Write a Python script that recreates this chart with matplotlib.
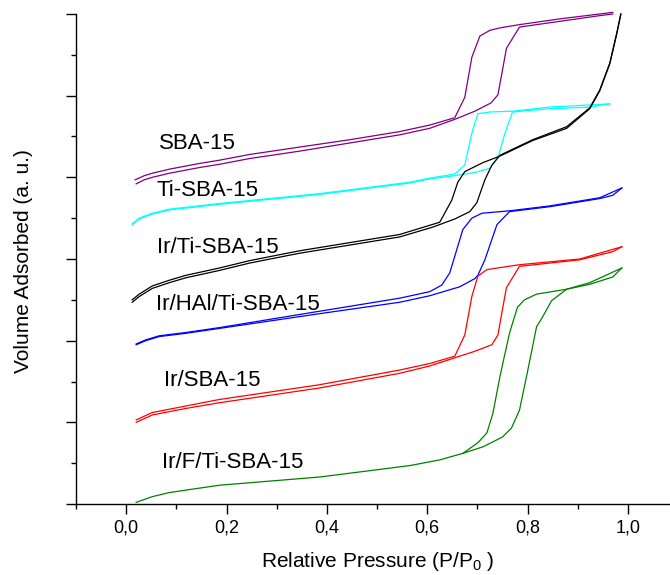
import numpy as np
import matplotlib
matplotlib.use("agg")
import matplotlib.pyplot as plt
from matplotlib.ticker import MultipleLocator, FuncFormatter, NullFormatter

plt.rcParams["font.family"] = ["Liberation Sans", "DejaVu Sans"]
plt.rcParams["mathtext.fontset"] = "custom"
plt.rcParams["mathtext.rm"] = "Liberation Sans"

# N2 isotherms, relative pressure vs adsorbed volume (offset, a.u.)
sba_ads_p = [0.020, 0.036, 0.052, 0.086, 0.146, 0.186, 0.246, 0.345, 0.445, 0.545,
             0.605, 0.655, 0.695, 0.727, 0.741, 0.750, 0.758, 0.784, 0.864, 0.944,
             0.970]
sba_ads_v = [392, 397, 400, 405, 412, 416, 423, 432, 442, 452,
             460, 471, 481, 491, 501, 531, 558, 584, 591, 598,
             600]
sba_des_p = [0.970, 0.864, 0.784, 0.745, 0.725, 0.705, 0.689, 0.675, 0.655, 0.605,
             0.545, 0.445, 0.345, 0.246, 0.186, 0.146, 0.086, 0.052, 0.036, 0.018]
sba_des_v = [602, 594, 587, 583, 580, 573, 547, 498, 473, 464,
             456, 446, 437, 428, 421, 417, 410, 405, 402, 397]

ti_ads_p = [0.012, 0.026, 0.052, 0.086, 0.186, 0.385, 0.565, 0.605, 0.655, 0.695,
            0.725, 0.741, 0.754, 0.770, 0.844, 0.924, 0.964]
ti_ads_v = [342, 349, 355, 360, 367, 379, 393, 398, 402, 406,
            411, 424, 452, 480, 484, 486, 490]
ti_des_p = [0.964, 0.844, 0.770, 0.725, 0.701, 0.689, 0.675, 0.655, 0.605, 0.565,
            0.385, 0.186, 0.086, 0.052, 0.026, 0.012]
ti_des_v = [490, 486, 481, 480, 478, 454, 415, 404, 399, 394,
            380, 368, 361, 356, 350, 343]

irti_ads_p = [0.012, 0.026, 0.052, 0.086, 0.119, 0.186, 0.246, 0.345, 0.445, 0.545,
              0.611, 0.655, 0.685, 0.699, 0.715, 0.729, 0.745, 0.810, 0.878, 0.924,
              0.944, 0.964, 0.978, 0.986]
irti_ads_v = [247, 254, 264, 271, 277, 286, 295, 307, 317, 327,
              339, 349, 358, 369, 397, 415, 427, 446, 462, 485,
              507, 540, 577, 600]
irti_des_p = [0.986, 0.978, 0.964, 0.944, 0.924, 0.878, 0.810, 0.745, 0.711, 0.675,
              0.661, 0.649, 0.625, 0.545, 0.445, 0.345, 0.246, 0.186, 0.119, 0.086,
              0.052, 0.026, 0.012]
irti_des_v = [600, 576, 539, 506, 484, 460, 445, 426, 418, 407,
              394, 372, 345, 330, 320, 310, 298, 289, 280, 274,
              267, 257, 250]

irhal_ads_p = [0.020, 0.039, 0.066, 0.119, 0.186, 0.385, 0.545, 0.605, 0.665, 0.695,
               0.701, 0.715, 0.739, 0.764, 0.844, 0.944, 0.970, 0.988]
irhal_ads_v = [195, 200, 205, 209, 215, 233, 247, 255, 266, 276,
               280, 299, 342, 358, 364, 374, 378, 387]
irhal_des_p = [0.988, 0.944, 0.844, 0.764, 0.709, 0.689, 0.671, 0.645, 0.629, 0.605,
               0.545, 0.385, 0.186, 0.119, 0.066, 0.039, 0.020]
irhal_des_v = [387, 375, 365, 359, 356, 350, 336, 283, 268, 260,
               252, 236, 216, 210, 206, 201, 196]

irsba_ads_p = [0.020, 0.052, 0.119, 0.186, 0.385, 0.545, 0.605, 0.655, 0.695, 0.729,
               0.741, 0.750, 0.758, 0.784, 0.904, 0.970, 0.988]
irsba_ads_v = [100, 109, 117, 124, 142, 160, 169, 179, 187, 195,
               207, 238, 265, 291, 299, 309, 315]
irsba_des_p = [0.988, 0.904, 0.784, 0.719, 0.701, 0.689, 0.675, 0.655, 0.605, 0.545,
               0.385, 0.186, 0.119, 0.052, 0.020]
irsba_des_v = [315, 300, 293, 287, 279, 254, 207, 181, 172, 164,
               146, 128, 120, 112, 103]

irf_ads_p = [0.020, 0.052, 0.086, 0.119, 0.186, 0.385, 0.565, 0.625, 0.671, 0.711,
             0.750, 0.768, 0.784, 0.798, 0.818, 0.830, 0.848, 0.878, 0.924, 0.970,
             0.988]
irf_ads_v = [2, 9, 14, 17, 23, 33, 47, 54, 62, 70,
             82, 93, 115, 156, 217, 229, 249, 263, 269, 278,
             289]
irf_des_p = [0.988, 0.924, 0.878, 0.818, 0.794, 0.780, 0.764, 0.745, 0.731, 0.719,
             0.701, 0.671]
irf_des_v = [289, 271, 263, 257, 250, 241, 209, 156, 111, 87, 75, 62]

samples = ["SBA-15", "Ti-SBA-15", "Ir/Ti-SBA-15", "Ir/HAl/Ti-SBA-15",
           "Ir/SBA-15", "Ir/F/Ti-SBA-15"]
colors = ["#800080", "#00ffff", "#000000", "#0000ff", "#ff0000", "#008000"]
label_p = [0.066, 0.060, 0.062, 0.060, 0.076, 0.072]
label_v = [442, 384, 314, 244, 151, 51]

isotherms = [
    (sba_ads_p, sba_ads_v, sba_des_p, sba_des_v),
    (ti_ads_p, ti_ads_v, ti_des_p, ti_des_v),
    (irti_ads_p, irti_ads_v, irti_des_p, irti_des_v),
    (irhal_ads_p, irhal_ads_v, irhal_des_p, irhal_des_v),
    (irsba_ads_p, irsba_ads_v, irsba_des_p, irsba_des_v),
    (irf_ads_p, irf_ads_v, irf_des_p, irf_des_v),
]

fig = plt.figure(figsize=(6.7, 5.75), dpi=100)
ax = fig.add_axes([76 / 670, 71 / 575, 594 / 670, 490 / 575])

for (ap, av, dp, dv), c in zip(isotherms, colors):
    ax.plot(ap, av, color=c, lw=0.9, clip_on=False)
    ax.plot(dp, dv, color=c, lw=0.9, clip_on=False)

for name, px, py in zip(samples, label_p, label_v):
    ax.text(px, py, name, fontsize=16, ha="left", va="center")

ax.set_xlim(-0.1, 1.084)
ax.set_ylim(0, 600)

ax.spines["top"].set_visible(False)
ax.spines["right"].set_visible(False)
for s in ["left", "bottom"]:
    ax.spines[s].set_linewidth(1.0)

ax.xaxis.set_major_locator(MultipleLocator(0.2))
ax.xaxis.set_minor_locator(MultipleLocator(0.1))
ax.xaxis.set_major_formatter(
    FuncFormatter(lambda v, _: "{:.1f}".format(v).replace(".", ",")))
ax.yaxis.set_major_locator(MultipleLocator(100))
ax.yaxis.set_minor_locator(MultipleLocator(50))
ax.yaxis.set_major_formatter(NullFormatter())

ax.tick_params(which="major", direction="out", length=7, width=1.0,
               labelsize=13, pad=4)
ax.tick_params(which="minor", direction="out", length=3.5, width=1.0)

ax.set_xlabel(r"Relative Pressure (P/P$_{\mathregular{0}}$ )", fontsize=15)
ax.xaxis.label.set_va("baseline")
ax.xaxis.set_label_coords(0.508, -0.129)
ax.set_ylabel("Volume Adsorbed (a. u.)", fontsize=15)
ax.yaxis.label.set_va("center")
ax.yaxis.set_label_coords(-0.089, 0.496)

fig.savefig("out.png", dpi=100)
